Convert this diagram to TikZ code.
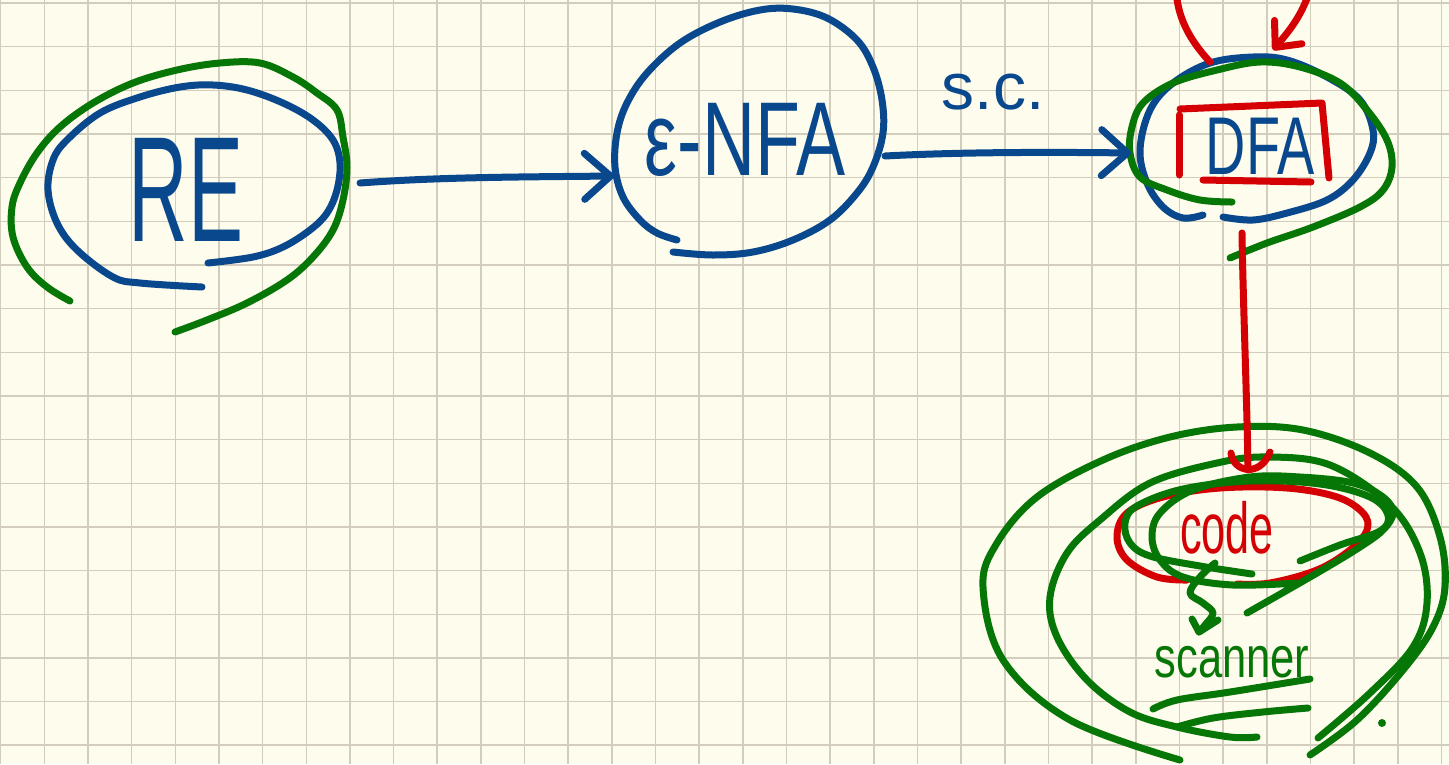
\documentclass[tikz,border=0pt]{standalone}
\usepackage{fontspec}
\setmainfont{Liberation Sans}
\usetikzlibrary{arrows.meta,calc}
\definecolor{paper}{RGB}{254,252,237}
\definecolor{gridc}{RGB}{210,205,188}
\definecolor{inkblue}{RGB}{10,72,142}
\definecolor{inkgreen}{RGB}{6,118,6}
\definecolor{inkred}{RGB}{212,0,4}
\tikzset{
  ink/.style={line width=7pt, line cap=round, line join=round},
  blueink/.style={ink, draw=inkblue},
  greenink/.style={ink, draw=inkgreen},
  redink/.style={ink, draw=inkred},
  barb/.style={-{Straight Barb[length=26pt,width=46pt,round]}},
  smallbarb/.style={-{Straight Barb[length=20pt,width=36pt,round]}},
  gridline/.style={draw=gridc, line width=1.5pt},
  lbl/.style={inner sep=0pt, outer sep=0pt},
}
\begin{document}
\begin{tikzpicture}[x=1pt,y=-1pt]
\useasboundingbox (0,0) rectangle (1449,764);
\clip (0,0) rectangle (1449,764);
\fill[paper] (0,0) rectangle (1449,764);
% grid
\foreach \i in {0,...,33} \draw[gridline] (0.64+43.66*\i,0) -- (0.64+43.66*\i,764);
\foreach \j in {0,...,17} \draw[gridline] (0,3+43.66*\j) -- (1449,3+43.66*\j);

% ---------- text nodes ----------
\node[lbl, text=inkblue] (re) at (186,190) {\fontsize{150}{150}\selectfont\scalebox{0.55}[1]{RE}};
\node[lbl, text=inkblue] (enfa) at (745,140) {\fontsize{105}{105}\selectfont\scalebox{0.7}[1]{ε-NFA}};
\node[lbl, text=inkblue] (dfa) at (1260,146) {\fontsize{82}{82}\selectfont\scalebox{0.68}[1]{DFA}};
\node[lbl, text=inkblue] (sc) at (993,92) {\fontsize{66}{66}\selectfont s.c.};
\node[lbl, text=inkred] (code) at (1227,528) {\fontsize{72}{72}\selectfont\scalebox{0.6}[1]{code}};
\node[lbl, text=inkgreen] (scanner) at (1232,662) {\fontsize{58}{58}\selectfont\scalebox{0.75}[1]{scanner}};

% ---------- RE ----------
\draw[blueink] plot[smooth, tension=0.6] coordinates {(202,287) (140,283) (113,277) (77,250) (57,223) (48,190) (53,160) (67,140) (100,113) (140,97) (180,87) (213,85) (247,90) (283,103) (313,120) (333,140) (340,163) (337,190) (327,213) (310,230) (283,247) (253,257) (208,263)};
\draw[greenink] plot[smooth, tension=0.6] coordinates {(70,301) (47,287) (27,267) (13,237) (12,207) (20,183) (37,153) (60,127) (93,103) (133,83) (177,70) (220,63) (260,63) (293,77) (317,93) (337,110) (343,137) (347,167) (343,200) (333,230) (313,257) (287,280) (247,303) (207,320) (175,332)};

% ---------- e-NFA ----------
\draw[blueink] plot[smooth, tension=0.6] coordinates {(677,240) (657,233) (640,220) (623,197) (615,167) (617,133) (627,103) (647,73) (680,43) (720,22) (760,10) (793,9) (827,18) (857,40) (873,67) (882,100) (883,133) (873,167) (857,193) (830,220) (793,240) (753,252) (713,255) (673,252)};

% ---------- DFA ----------
\draw[blueink] plot[smooth, tension=0.6] coordinates {(1203,215) (1183,218) (1163,207) (1147,183) (1140,150) (1150,110) (1173,83) (1210,63) (1253,57) (1287,60) (1327,77) (1360,100) (1373,130) (1370,153) (1353,180) (1327,200) (1287,213) (1253,220) (1223,217)};
\draw[redink] (1180,109) -- (1322,103) -- (1329,178);
\draw[redink] (1179,115) -- (1179,175);
\draw[redink] (1203,180) -- (1311,182);
\draw[greenink] plot[smooth, tension=0.6] coordinates {(1232,202) (1200,200) (1167,190) (1140,177) (1130,153) (1132,127) (1143,103) (1173,83) (1217,70) (1260,62) (1300,67) (1340,83) (1367,110) (1387,140) (1392,167) (1383,190) (1360,207) (1313,227) (1267,243) (1230,258)};

% ---------- code / scanner ----------
\draw[redink] plot[smooth, tension=0.6] coordinates {(1187,580) (1157,577) (1127,560) (1117,537) (1127,513) (1163,497) (1220,488) (1287,488) (1337,497) (1363,513) (1367,530) (1350,550) (1317,570) (1270,583) (1237,584)};
% outer green
\draw[greenink] plot[smooth, tension=0.6] coordinates {(1180,760) (1070,720) (1003,660) (983,587) (997,543) (1037,497) (1103,460) (1170,437) (1237,427) (1303,430) (1370,453) (1417,487) (1440,537) (1445,587) (1433,627) (1403,670) (1357,720) (1310,755)};
% second green
\draw[greenink] plot[smooth, tension=0.6] coordinates {(1257,737) (1230,737) (1177,727) (1130,712) (1087,680) (1057,637) (1050,597) (1067,553) (1100,520) (1150,483) (1217,463) (1267,457) (1330,465) (1390,505) (1420,553) (1427,603) (1413,647) (1370,693) (1318,738)};
% inner loops
\draw[greenink] plot[smooth, tension=0.6] coordinates {(1300,561) (1340,545) (1380,531) (1388,515) (1370,497) (1320,484) (1250,481) (1183,489) (1137,506) (1125,523) (1130,543) (1150,556) (1200,566) (1252,574)};
\draw[greenink] plot[smooth, tension=0.6] coordinates {(1297,583) (1233,585) (1183,577) (1160,560) (1152,537) (1160,513) (1193,490) (1250,477) (1300,477) (1353,483) (1383,497) (1393,513) (1383,530) (1360,547) (1317,573) (1247,613)};
% underlines
\draw[greenink] plot[smooth, tension=0.6] coordinates {(1153,709) (1177,700) (1230,692) (1310,679)};
\draw[greenink] plot[smooth, tension=0.6] coordinates {(1177,727) (1213,718) (1263,712) (1308,708)};
% dot
\fill[inkgreen] (1382,723) circle (4);

% ---------- connectors ----------
\coordinate (reout) at (360,183);
\coordinate (enfain) at (614,176);
\draw[blueink, barb] (reout) .. controls (440,177) and (520,177) .. (enfain);

\coordinate (enfaout) at (885,156);
\coordinate (dfain) at (1131,153);
\draw[blueink, barb] (enfaout) .. controls (960,152) and (1050,152) .. (dfain);

% self loop on DFA (leaves the page)
\coordinate (loopout) at (1210,62);
\coordinate (loopin) at (1273,50);
\draw[redink, smallbarb] (loopout) .. controls (1185,35) and (1175,10) .. (1176,-20) .. controls (1180,-90) and (1330,-90) .. (1310,-10) .. controls (1302,15) and (1290,30) .. (loopin);

% DFA -> code
\coordinate (dfaout) at (1242,233);
\coordinate (codein) at (1248,470);
\draw[redink] (dfaout) .. controls (1243,300) and (1247,400) .. (codein);
\draw[redink] (1231,453) .. controls (1233,472) and (1260,478) .. (1270,452);

% code -> scanner (squiggle)
\coordinate (codeout) at (1215,563);
\coordinate (scannerin) at (1199,632);
\draw[greenink] plot[smooth, tension=0.6] coordinates {(codeout) (1200,577) (1190,593) (1203,603) (1213,613) (1205,625) (scannerin)};
\draw[greenink] (1192,619) -- (scannerin) -- (1218,620);
\end{tikzpicture}
\end{document}
